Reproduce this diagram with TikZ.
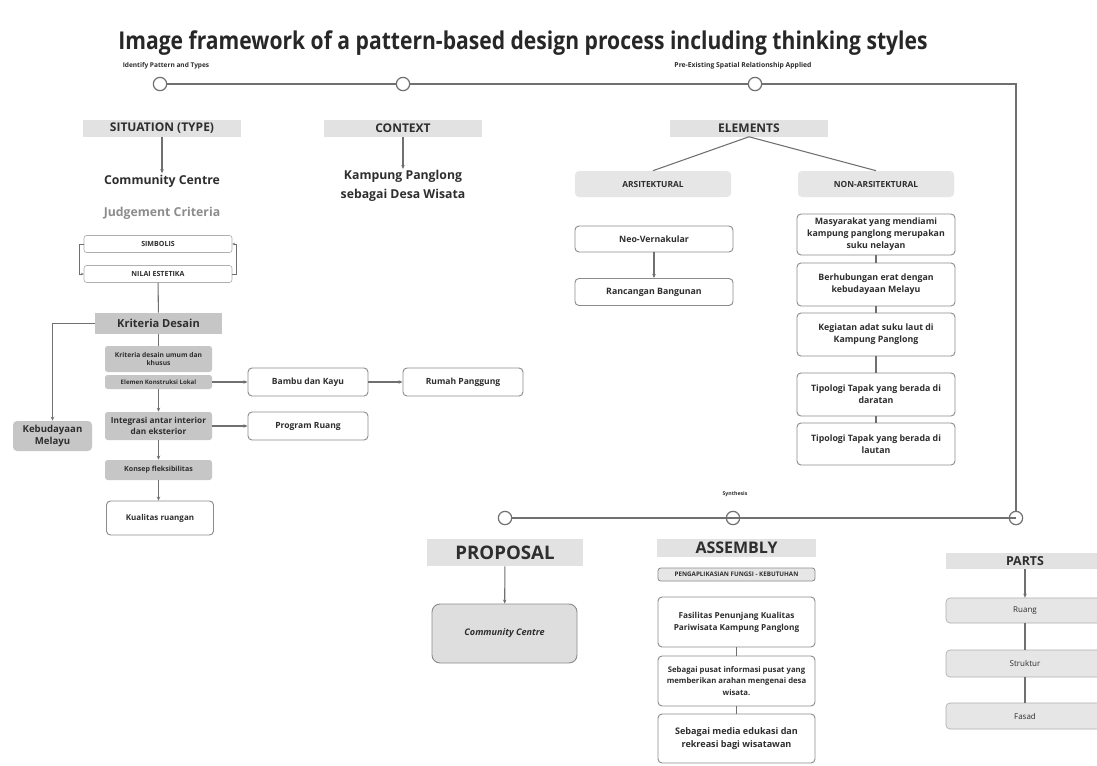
\documentclass[tikz,border=0pt]{standalone}
\usepackage{fontspec}
\setmainfont{Open Sans}
\newfontfamily\titlefont[FakeStretch=0.86]{Open Sans}
\usetikzlibrary{arrows.meta}
\definecolor{lg}{HTML}{707070}
\definecolor{hdrgray}{HTML}{E2E2E2}
\definecolor{dk}{HTML}{C6C6C6}
\definecolor{lt}{HTML}{E6E6E6}
\definecolor{bd}{HTML}{8C8C8C}
\definecolor{tx}{HTML}{2E2E2E}
\tikzset{
  wh/.style 2 args={minimum width=#1*0.75pt, minimum height=#2*0.75pt},
  hdrbox/.style={fill=hdrgray, inner sep=0pt, text=tx, font=\bfseries\fontsize{9}{11}\selectfont},
  wbox/.style={draw=bd, fill=white, rounded corners=3pt, line width=0.7pt, align=center, inner sep=1pt, text=tx},
  dbox/.style={fill=dk, rounded corners=2pt, align=center, inner sep=1pt, text=tx},
  lbox/.style={fill=lt, draw=bd!70, line width=0.5pt, rounded corners=3pt, align=center, inner sep=1pt, text=tx},
  plain/.style={align=center, inner sep=1pt, text=tx},
  ln/.style={draw=lg, line width=0.8pt},
  ar/.style={ln, -{Stealth[length=3pt,width=2.6pt]}},
  tcirc/.style={circle, draw=lg, fill=white, line width=0.9pt, minimum size=10pt, inner sep=0pt},
  ocirc/.style={circle, draw=lg, line width=0.9pt, minimum size=10pt, inner sep=0pt},
}
\begin{document}
\begin{tikzpicture}[x=0.75pt,y=-0.75pt]
\useasboundingbox (0,0) rectangle (1097,765);
\clip (0,0) rectangle (1097,765);
\fill[white] (0,0) rectangle (1097,765);

% title
\node[plain, text=tx!85!black, font=\titlefont\bfseries\fontsize{18.4}{21}\selectfont] (title) at (523,43) {Image framework of a pattern-based design process including thinking styles};

% timeline labels
\node[plain, font=\bfseries\fontsize{4.9}{6}\selectfont] (lblA) at (166,66) {Identify Pattern and Types};
\node[plain, font=\bfseries\fontsize{5.1}{6}\selectfont] (lblB) at (743,66) {Pre-Existing Spatial Relationship Applied};
\node[plain, font=\bfseries\fontsize{3.9}{5}\selectfont] (lblC) at (735,494) {Synthesis};

% timeline circles
\node[tcirc] (t1) at (160,84) {};
\node[tcirc] (t2) at (403,84) {};
\node[tcirc] (t3) at (755,84) {};
\coordinate (corner) at (1016,84);
\node[tcirc] (b1) at (505,518) {};
\node[ocirc] (b2) at (733,518) {};
\node[ocirc] (b3) at (1016,518) {};
\draw[ln] (t1) -- (t2);
\draw[ln] (t2) -- (t3);
\draw[ln] (t3) -- (corner) -- (b3.north);
\draw[ln] (b1) -- (b3.center);

% headers
\node[hdrbox, wh={158}{17}] (sit) at (162,128) {SITUATION (TYPE)};
\node[hdrbox, wh={158}{17}] (ctx) at (403,128) {CONTEXT};
\node[hdrbox, wh={158}{17}] (elem) at (749,128) {ELEMENTS};

\node[plain, font=\bfseries\fontsize{9.2}{11}\selectfont] (cc) at (162,181) {Community Centre};
\node[plain, text=black!45, font=\bfseries\fontsize{9.2}{11}\selectfont] (jc) at (162,213) {Judgement Criteria};
\node[plain, font=\bfseries\fontsize{9.2}{14}\selectfont] (kp) at (403,186) {Kampung Panglong\\sebagai Desa Wisata};
\draw[ar] (sit) -- (cc);
\draw[ar] (ctx) -- (kp);

% elements branch
\node[lbox, draw=none, wh={156}{26}, font=\bfseries\fontsize{6.3}{8}\selectfont] (ars) at (653,184) {ARSITEKTURAL};
\node[lbox, draw=none, wh={156}{26}, font=\bfseries\fontsize{6.3}{8}\selectfont] (nonars) at (876,184) {NON-ARSITEKTURAL};
\draw[ln] (elem.south) -- (ars.north);
\draw[ln] (elem.south) -- (nonars.north);

\node[wbox, wh={158}{26}, font=\bfseries\fontsize{6.6}{8}\selectfont] (neo) at (654,239) {Neo-Vernakular};
\node[wbox, wh={158}{27}, font=\bfseries\fontsize{6.6}{8}\selectfont] (ranc) at (654,292) {Rancangan Bangunan};
\draw[ar] (neo) -- (ranc);

\node[wbox, wh={158}{41}, font=\bfseries\fontsize{6.6}{9}\selectfont] (mas) at (876,234.5) {Masyarakat yang mendiami\\kampung panglong merupakan\\suku nelayan};
\node[wbox, wh={158}{43}, font=\bfseries\fontsize{6.6}{9}\selectfont] (ber) at (876,284.5) {Berhubungan erat dengan\\kebudayaan Melayu};
\node[wbox, wh={158}{43}, font=\bfseries\fontsize{6.6}{9}\selectfont] (keg) at (876,334.5) {Kegiatan adat suku laut di\\Kampung Panglong};
\node[wbox, wh={158}{43}, font=\bfseries\fontsize{6.6}{9}\selectfont] (tipa) at (876,394.5) {Tipologi Tapak yang berada di\\daratan};
\node[wbox, wh={158}{42}, font=\bfseries\fontsize{6.6}{9}\selectfont] (tipb) at (876,444) {Tipologi Tapak yang berada di\\lautan};
\draw[ln] (mas) -- (ber);
\draw[ln] (ber) -- (keg);
\draw[ln] (keg) -- (tipa);
\draw[ln] (tipa) -- (tipb);

% left column
\node[wbox, draw=bd!70, line width=0.5pt, rounded corners=2pt, wh={148}{17}, font=\bfseries\fontsize{5.3}{7}\selectfont] (simb) at (158,244) {SIMBOLIS};
\node[wbox, draw=bd!70, line width=0.5pt, rounded corners=2pt, wh={148}{17}, font=\bfseries\fontsize{5.3}{7}\selectfont] (nilai) at (158,274) {NILAI ESTETIKA};
\draw[ln, line width=0.5pt, -{Stealth[length=2pt,width=2pt]}] (simb.west) -- ++(-4,0) |- (nilai.west);
\draw[ln, line width=0.5pt, -{Stealth[length=2pt,width=2pt]}] (nilai.east) -- ++(4,0) |- (simb.east);

\node[dbox, rounded corners=0pt, wh={127}{21}, font=\bfseries\fontsize{8.3}{10}\selectfont] (kd) at (158.5,323.5) {Kriteria Desain};
\draw[ln] (nilai) -- (kd);

\node[dbox, wh={107}{26}, font=\bfseries\fontsize{5}{6.5}\selectfont] (kdu) at (158.5,359) {Kriteria desain umum dan\\khusus};
\node[dbox, wh={107}{14}, font=\bfseries\fontsize{4.6}{6}\selectfont] (ekl) at (158.5,382) {Elemen Konstruksi Lokal};
\node[dbox, wh={107}{28}, font=\bfseries\fontsize{6.2}{8}\selectfont] (integ) at (158.5,426) {Integrasi antar interior\\dan eksterior};
\node[dbox, wh={107}{20}, font=\bfseries\fontsize{5.3}{7}\selectfont] (kon) at (158.5,470) {Konsep fleksibilitas};
\node[wbox, wh={107}{34}, font=\bfseries\fontsize{6}{8}\selectfont] (kual) at (160,518) {Kualitas ruangan};
\node[dbox, rounded corners=3pt, wh={79}{30}, font=\bfseries\fontsize{7.2}{9}\selectfont] (keb) at (52.5,436) {Kebudayaan\\Melayu};
\draw[ln] (kd) -- (kdu);
\draw[ar] (ekl) -- (integ);
\draw[ar] (integ) -- (kon);
\draw[ar] (kon) -- (kual.north -| kon.south);
\draw[ar] (kd.west) -| (keb.north);

\node[wbox, wh={120}{28}, font=\bfseries\fontsize{6.4}{8}\selectfont] (bambu) at (308,382) {Bambu dan Kayu};
\node[wbox, wh={120}{28}, font=\bfseries\fontsize{6.4}{8}\selectfont] (rumah) at (463,382) {Rumah Panggung};
\node[wbox, wh={120}{28}, font=\bfseries\fontsize{6.4}{8}\selectfont] (prog) at (308,426) {Program Ruang};
\draw[ar] (ekl) -- (bambu);
\draw[ar] (bambu) -- (rumah);
\draw[ar] (integ) -- (prog);

% proposal
\node[hdrbox, wh={156}{27}, font=\bfseries\fontsize{14}{16}\selectfont] (prop) at (505,552.5) {PROPOSAL};
\node[wbox, fill=black!13, rounded corners=6pt, wh={145}{59}, font=\bfseries\itshape\fontsize{6.8}{8}\selectfont] (ccb) at (504.5,633.5) {Community Centre};
\draw[ar] (prop) -- (ccb);

% assembly
\node[hdrbox, wh={159}{18}, font=\bfseries\fontsize{12}{13}\selectfont] (asm) at (736.5,548) {ASSEMBLY};
\node[lbox, draw=bd, line width=0.6pt, rounded corners=2pt, wh={157}{13}, font=\bfseries\fontsize{4.7}{6}\selectfont] (peng) at (736.5,574.5) {PENGAPLIKASIAN FUNGSI - KEBUTUHAN};
\node[wbox, wh={157}{50}, font=\bfseries\fontsize{6.2}{9}\selectfont] (fas) at (736.5,622) {Fasilitas Penunjang Kualitas\\Pariwisata Kampung Panglong};
\node[wbox, wh={157}{50}, font=\bfseries\fontsize{5.8}{8.5}\selectfont] (seb) at (736.5,681) {Sebagai pusat informasi pusat yang\\memberikan arahan mengenai desa\\wisata.};
\node[wbox, wh={157}{49}, font=\bfseries\fontsize{6.8}{10}\selectfont] (med) at (736.5,738.5) {Sebagai media edukasi dan\\rekreasi bagi wisatawan};
\draw[ln] (fas) -- (seb);
\draw[ln] (seb) -- (med);

% parts
\node[hdrbox, wh={158}{16}, font=\bfseries\fontsize{9.3}{10}\selectfont] (parts) at (1025,561) {PARTS};
\node[lbox, wh={158}{25}, font=\fontsize{6}{7}\selectfont] (ruang) at (1025,610.5) {Ruang};
\node[lbox, wh={158}{27}, font=\fontsize{6}{7}\selectfont] (struk) at (1025,663.5) {Struktur};
\node[lbox, wh={158}{26}, font=\fontsize{6}{7}\selectfont] (fasad) at (1025,716) {Fasad};
\draw[ar] (parts) -- (ruang);
\draw[ln] (ruang) -- (struk);
\draw[ln] (struk) -- (fasad);
\end{tikzpicture}
\end{document}
